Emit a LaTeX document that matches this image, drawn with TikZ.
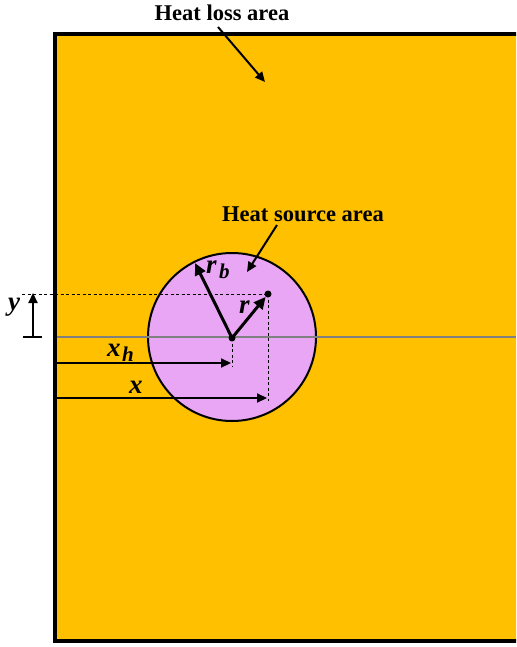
\documentclass[tikz,border=0pt]{standalone}
\usepackage{fontspec}
\setmainfont{Liberation Serif}
\usetikzlibrary{arrows.meta}
\definecolor{gold}{RGB}{255,192,0}
\definecolor{lilac}{RGB}{233,166,244}
\begin{document}
\begin{tikzpicture}[x=1pt,y=-1pt,
  lbl/.style={font=\bfseries\fontsize{22.5}{24}\selectfont, inner sep=0pt},
  sym/.style={font=\bfseries\itshape\fontsize{27}{28}\selectfont, inner sep=0pt, anchor=base west},
  sub/.style={font=\bfseries\itshape\fontsize{21}{22}\selectfont, inner sep=0pt, anchor=base west},
  arr/.style={line width=2.2pt,-{Triangle[length=10pt,width=9pt]}},
  bigarr/.style={line width=3pt,-{Triangle[length=12pt,width=11pt]}},
  thinarr/.style={line width=2pt,-{Triangle[length=10pt,width=9pt]}},
  dsh/.style={line width=0.9pt, dash pattern=on 3pt off 2.5pt},
  dot/.style={circle, fill=black, inner sep=0pt, minimum size=7pt}]
\clip (0,0) rectangle (516,647);
\fill[white] (0,0) rectangle (516,647);
\draw[line width=4pt, fill=gold] (55,34) rectangle (560,641);
% texts
\node[lbl] (loss) at (222,13) {Heat loss area};
\node[lbl] (src) at (303,214) {Heat source area};
\coordinate (lossStart) at (218,27);
\coordinate (lossTip) at (265,82);
\coordinate (srcStart) at (277,225);
\coordinate (srcTip) at (247,272);
\draw[thinarr] (lossStart) -- (lossTip);
% disk
\node[circle, draw, line width=2pt, fill=lilac, minimum size=168pt, inner sep=0pt] (disk) at (232,337) {};
\draw[thinarr] (srcStart) -- (srcTip);
% axis line
\coordinate (axL) at (57,337);
\coordinate (axR) at (516,337);
\draw[black!50, line width=1.1pt] (axL) -- (axR);
% points
\node[dot] (c) at (232,338) {};
\node[dot] (p) at (268,294) {};
\coordinate (rbTip) at (195,263);
% dashed guides
\coordinate (yL) at (22,294);
\coordinate (cDown) at (232,367);
\coordinate (pDown) at (268,401);
\draw[dsh] (yL) -- (p.center);
\draw[dsh] (c.center) -- (cDown);
\draw[dsh] (p.center) -- (pDown);
% radius arrows
\draw[bigarr] (c.center) -- (rbTip);
\draw[bigarr] (c.center) -- (p);
% y arrow
\coordinate (yBot) at (33,337);
\coordinate (yTop) at (33,293);
\coordinate (tickL) at (23,337);
\coordinate (tickR) at (42,337);
\draw[arr] (yBot) -- (yTop);
\draw[line width=1.6pt] (tickL) -- (tickR);
% x arrows
\coordinate (xhL) at (57,363);
\coordinate (xhR) at (231,363);
\coordinate (xL) at (57,398);
\coordinate (xR) at (267,398);
\draw[arr] (xhL) -- (xhR);
\draw[arr] (xL) -- (xR);
% symbol labels
\node[sym] (ylab) at (8,310) {y};
\node[sym] (xhlab) at (107,356) {x};
\node[sub] (xhsub) at (122,361) {h};
\node[sym] (xlab) at (129,393) {x};
\node[sym] (rlab) at (239,313) {r};
\node[sym] (rblab) at (206,273) {r};
\node[sub] (rbsub) at (219,278) {b};
\end{tikzpicture}
\end{document}
